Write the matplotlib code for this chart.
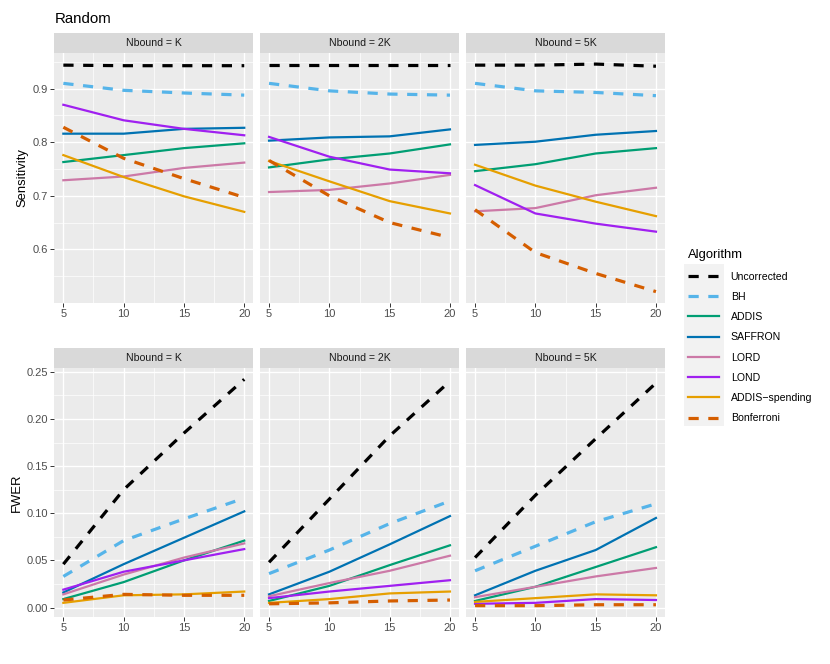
import matplotlib
matplotlib.use("Agg")
import matplotlib.pyplot as plt
from matplotlib.patches import Rectangle
from matplotlib.lines import Line2D

plt.rcParams['font.family'] = ['Liberation Sans', 'DejaVu Sans']

# ---- data ----
n_tests = [5, 10, 15, 20]
algorithms = ['Uncorrected', 'BH', 'ADDIS', 'SAFFRON', 'LORD', 'LOND',
              'ADDIS\u2212spending', 'Bonferroni']
panels = ['Nbound = K', 'Nbound = 2K', 'Nbound = 5K']

sens_k = {
    'Uncorrected': [0.944, 0.943, 0.943, 0.943],
    'BH': [0.910, 0.897, 0.892, 0.888],
    'ADDIS': [0.763, 0.776, 0.789, 0.798],
    'SAFFRON': [0.816, 0.816, 0.825, 0.827],
    'LORD': [0.729, 0.736, 0.752, 0.762],
    'LOND': [0.870, 0.841, 0.825, 0.813],
    'ADDIS\u2212spending': [0.776, 0.735, 0.699, 0.670],
    'Bonferroni': [0.828, 0.770, 0.732, 0.697],
}
sens_2k = {
    'Uncorrected': [0.944, 0.944, 0.944, 0.944],
    'BH': [0.910, 0.896, 0.890, 0.888],
    'ADDIS': [0.753, 0.768, 0.779, 0.796],
    'SAFFRON': [0.803, 0.809, 0.811, 0.824],
    'LORD': [0.707, 0.711, 0.723, 0.739],
    'LOND': [0.810, 0.773, 0.749, 0.742],
    'ADDIS\u2212spending': [0.765, 0.727, 0.690, 0.667],
    'Bonferroni': [0.766, 0.700, 0.650, 0.622],
}
sens_5k = {
    'Uncorrected': [0.944, 0.944, 0.946, 0.942],
    'BH': [0.910, 0.896, 0.893, 0.887],
    'ADDIS': [0.746, 0.759, 0.779, 0.789],
    'SAFFRON': [0.795, 0.801, 0.814, 0.821],
    'LORD': [0.671, 0.677, 0.701, 0.715],
    'LOND': [0.720, 0.667, 0.648, 0.633],
    'ADDIS\u2212spending': [0.758, 0.719, 0.689, 0.662],
    'Bonferroni': [0.674, 0.594, 0.555, 0.521],
}
fwer_k = {
    'Uncorrected': [0.046, 0.125, 0.185, 0.242],
    'BH': [0.033, 0.071, 0.094, 0.116],
    'ADDIS': [0.009, 0.027, 0.050, 0.071],
    'SAFFRON': [0.016, 0.046, 0.074, 0.102],
    'LORD': [0.014, 0.035, 0.053, 0.068],
    'LOND': [0.019, 0.038, 0.050, 0.062],
    'ADDIS\u2212spending': [0.005, 0.013, 0.014, 0.017],
    'Bonferroni': [0.008, 0.014, 0.013, 0.013],
}
fwer_2k = {
    'Uncorrected': [0.048, 0.115, 0.182, 0.240],
    'BH': [0.036, 0.061, 0.089, 0.113],
    'ADDIS': [0.007, 0.023, 0.045, 0.066],
    'SAFFRON': [0.014, 0.038, 0.067, 0.097],
    'LORD': [0.012, 0.026, 0.039, 0.055],
    'LOND': [0.010, 0.017, 0.023, 0.029],
    'ADDIS\u2212spending': [0.005, 0.009, 0.015, 0.017],
    'Bonferroni': [0.004, 0.005, 0.007, 0.008],
}
fwer_5k = {
    'Uncorrected': [0.053, 0.119, 0.179, 0.238],
    'BH': [0.039, 0.065, 0.091, 0.110],
    'ADDIS': [0.007, 0.022, 0.043, 0.064],
    'SAFFRON': [0.013, 0.039, 0.061, 0.095],
    'LORD': [0.011, 0.022, 0.033, 0.042],
    'LOND': [0.004, 0.005, 0.009, 0.008],
    'ADDIS\u2212spending': [0.006, 0.010, 0.014, 0.013],
    'Bonferroni': [0.002, 0.002, 0.003, 0.003],
}

colors = {
    'Uncorrected': '#000000', 'BH': '#56B4E9', 'ADDIS': '#009E73',
    'SAFFRON': '#0072B2', 'LORD': '#CC79A7', 'LOND': '#A020F0',
    'ADDIS\u2212spending': '#E69F00', 'Bonferroni': '#D55E00',
}
dashed = ['Uncorrected', 'BH', 'Bonferroni']

# ---- layout (pixel based, 830x664) ----
W, H = 830, 664
fig = plt.figure(figsize=(W / 100, H / 100), dpi=100)

def px_axes(x0, y0, x1, y1):
    return fig.add_axes([x0 / W, 1 - y1 / H, (x1 - x0) / W, (y1 - y0) / H])

cols = [(54.3, 253.3), (260, 459), (466, 665)]
rows = [(52.7, 303.0, 32.7), (368.0, 617.0, 348.3)]
fs_tick = 8.0
fs_strip = 7.6
fs_axtitle = 9.4

def draw_row(datasets, yticks, yminor, ylabel, fmt, row):
    y0, y1, ys = rows[row]
    allv = [v for d in datasets for a in algorithms for v in d[a]]
    lo, hi = min(allv), max(allv)
    pad = (hi - lo) * 0.05
    for j, (d, (x0, x1)) in enumerate(zip(datasets, cols)):
        ax = px_axes(x0, y0, x1, y1)
        ax.set_facecolor('#EBEBEB')
        for s in ax.spines.values():
            s.set_visible(False)
        for a in algorithms:
            if a in dashed:
                ax.plot(n_tests, d[a], color=colors[a], lw=2.3,
                        linestyle=(0, (3.2, 3.0)), label=a, zorder=3)
            else:
                ax.plot(n_tests, d[a], color=colors[a], lw=1.6,
                        label=a, zorder=3)
        ax.set_xlim(5 - 0.75, 20 + 0.75)
        ax.set_ylim(lo - pad, hi + pad)
        ax.set_xticks([5, 10, 15, 20])
        ax.set_xticks([7.5, 12.5, 17.5], minor=True)
        ax.set_yticks(yticks)
        ax.set_yticks(yminor, minor=True)
        ax.grid(which='major', color='white', lw=1.0, zorder=0)
        ax.grid(which='minor', color='white', lw=0.5, zorder=0)
        ax.set_axisbelow(True)
        ax.tick_params(which='major', length=2.8, width=0.7, color='#333333',
                       labelsize=fs_tick, labelcolor='#4D4D4D', pad=1.5)
        ax.tick_params(which='minor', length=0)
        if j == 0:
            ax.set_yticklabels([fmt.format(t) for t in yticks])
            ax.set_ylabel(ylabel, fontsize=fs_axtitle, color='black',
                          labelpad=3)
        else:
            ax.tick_params(axis='y', which='major', length=0, labelleft=False)
        # facet strip
        st = px_axes(x0, ys, x1, y0)
        st.set_facecolor('#D9D9D9')
        st.set_xticks([])
        st.set_yticks([])
        for s in st.spines.values():
            s.set_visible(False)
        st.text(0.5, 0.5, panels[j], ha='center', va='center',
                fontsize=fs_strip, color='#1A1A1A', transform=st.transAxes)

draw_row([sens_k, sens_2k, sens_5k], [0.6, 0.7, 0.8, 0.9],
         [0.55, 0.65, 0.75, 0.85, 0.95], 'Sensitivity', '{:.1f}', 0)
draw_row([fwer_k, fwer_2k, fwer_5k], [0.0, 0.05, 0.10, 0.15, 0.20, 0.25],
         [0.025, 0.075, 0.125, 0.175, 0.225], 'FWER', '{:.2f}', 1)

fig.text(54.5 / W, 1 - 23 / H, 'Random', fontsize=10.8, ha='left',
         va='baseline', color='black')

# legend
handles = []
for a in algorithms:
    if a in dashed:
        handles.append(Line2D([], [], color=colors[a], lw=2.3,
                              linestyle=(0, (3.2, 3.0))))
    else:
        handles.append(Line2D([], [], color=colors[a], lw=1.6))
fig.patches.append(Rectangle((684 / W, 1 - 426 / H), 40 / W, 162 / H,
                             transform=fig.transFigure, facecolor='#F2F2F2',
                             edgecolor='none', zorder=0))
leg = fig.legend(handles, algorithms, loc='upper left',
                 bbox_to_anchor=(680 / W, 1 - 241 / H), frameon=False,
                 fontsize=7.6, title='Algorithm', title_fontsize=9.4,
                 handlelength=2.9, handletextpad=1.1, labelspacing=0.97,
                 alignment='left', borderpad=0.3)

fig.savefig('out.png', dpi=100)
